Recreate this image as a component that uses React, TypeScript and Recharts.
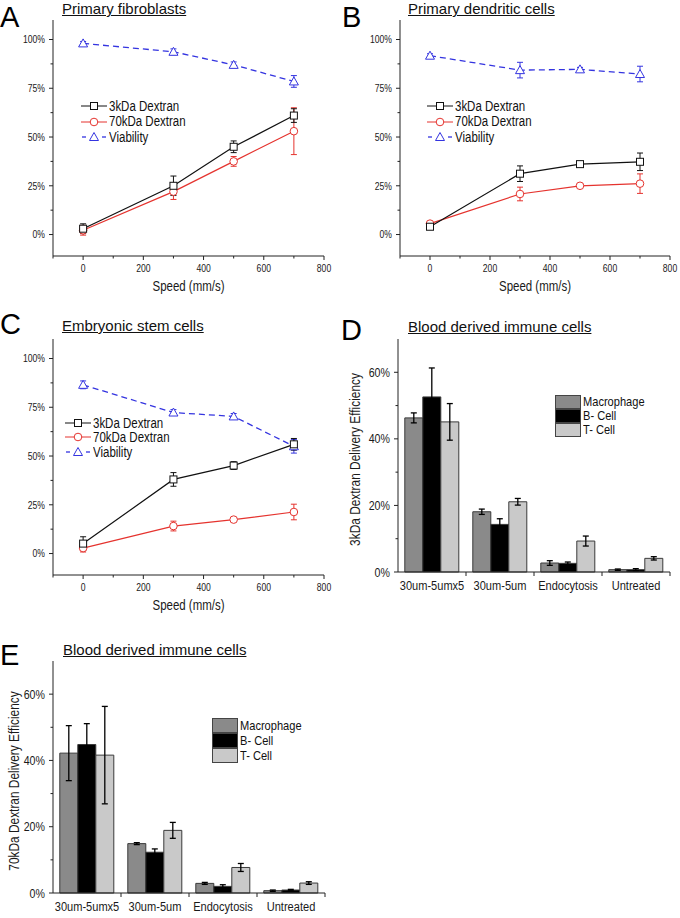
import React from "react";
import { Bar, BarChart, ErrorBar, Line, LineChart, XAxis, YAxis } from "recharts";

const SANS = "'Liberation Sans', Arial, sans-serif";
// the figure uses a condensed face; squeeze Liberation Sans horizontally
const SQUEEZE = 0.82;

const BLACK = "#111";
const RED = "#e5332e";
const BLUE = "#3434e0";
const AXIS = "#222";

// speed sweep (mm/s), shared by panels A-C
const speeds = [0, 300, 500, 700];
const speedTicks = [-100, 0, 100, 200, 300, 400, 500, 600, 700, 800];
const pctTicks = [0, 12.5, 25, 37.5, 50, 62.5, 75, 87.5, 100];

// A - primary fibroblasts
const fibroDex3 = [3, 25, 45, 61];
const fibroDex3Err = [2.5, 5, 3, 3.5];
const fibroDex70 = [2.2, 22, 37.5, 53];
const fibroDex70Err = [2.5, 4, 2.5, 12];
const fibroViab = [98, 93.7, 87, 78.5];
const fibroViabErr = [1, 1.5, 1.5, 3];

// B - primary dendritic cells
const dendDex3 = [4, 31.2, 36.1, 37.3];
const dendDex3Err = [1, 4, 1, 4.5];
const dendDex70 = [5.6, 20.8, 25, 26.1];
const dendDex70Err = [1, 3.5, 1, 5];
const dendViab = [91.7, 84.3, 84.7, 82.3];
const dendViabErr = [1, 4, 1, 4];

// C - embryonic stem cells
const escDex3 = [5.1, 38, 45.1, 56];
const escDex3Err = [3.5, 3.5, 2, 3];
const escDex70 = [2.8, 14.1, 17.4, 21.3];
const escDex70Err = [2, 2.5, 1, 4];
const escViab = [86.5, 72.3, 70.3, 55];
const escViabErr = [2, 1.5, 1.5, 3.5];

// D/E - blood derived immune cells
const protocols = ["30um-5umx5", "30um-5um", "Endocytosis", "Untreated"];
const barTicks = [0, 10, 20, 30, 40, 50, 60];

const macro3k = [46.3, 18.1, 2.7, 0.7];
const macro3kErr = [1.5, 0.8, 0.7, 0.2];
const bcell3k = [52.6, 14.3, 2.6, 0.7];
const bcell3kErr = [8.7, 1.7, 0.4, 0.3];
const tcell3k = [45.1, 21.1, 9.3, 4.1];
const tcell3kErr = [5.5, 1, 1.5, 0.5];

const macro70k = [42.2, 14.9, 2.9, 0.7];
const macro70kErr = [8.3, 0.3, 0.3, 0.2];
const bcell70k = [44.8, 12.3, 2, 0.9];
const bcell70kErr = [6.3, 1, 0.5, 0.2];
const tcell70k = [41.6, 18.9, 7.7, 3];
const tcell70kErr = [14.7, 2.4, 1.2, 0.4];

const cellTypes = [
  { key: "macro", name: "Macrophage", color: "#8a8a8a" },
  { key: "bcell", name: "B- Cell", color: "#000000" },
  { key: "tcell", name: "T- Cell", color: "#c9c9c9" },
];

function speedRows(d3: number[], d3e: number[], d70: number[], d70e: number[], v: number[], ve: number[]) {
  return speeds.map((s, i) => ({
    speed: s,
    dex3: d3[i], dex3Err: d3e[i],
    dex70: d70[i], dex70Err: d70e[i],
    viab: v[i], viabErr: ve[i],
  }));
}

function barRows(m: number[], me: number[], b: number[], be: number[], t: number[], te: number[]) {
  return protocols.map((p, i) => ({
    protocol: p,
    macro: m[i], macroErr: me[i],
    bcell: b[i], bcellErr: be[i],
    tcell: t[i], tcellErr: te[i],
  }));
}

function renderSquare(p: any) {
  return <rect key={`sq-${p.index}`} x={p.cx - 3.5} y={p.cy - 3.5} width={7} height={7} fill="#fff" stroke={BLACK} strokeWidth={1} />;
}
function renderCircle(p: any) {
  return <circle key={`ci-${p.index}`} cx={p.cx} cy={p.cy} r={3.8} fill="#fff" stroke={RED} strokeWidth={1} />;
}
function renderTriangle(p: any) {
  const { cx, cy } = p;
  return <path key={`tr-${p.index}`} d={`M${cx},${cy - 4.5}L${cx + 4.5},${cy + 3.5}L${cx - 4.5},${cy + 3.5}Z`} fill="#fff" stroke={BLUE} strokeWidth={1} />;
}

// squeezed svg text
function SqText({ x, y, size, anchor, rotate, children }: any) {
  const t = rotate
    ? `translate(${x},${y}) rotate(-90) scale(${SQUEEZE},1)`
    : `translate(${x},${y}) scale(${SQUEEZE},1)`;
  return (
    <text transform={t} x={0} y={0} dy={rotate ? "0.35em" : 0} fontSize={size} fontFamily={SANS} textAnchor={anchor} fill="#1a1a1a">
      {children}
    </text>
  );
}

function SpeedTick(props: any) {
  const { x, y, payload } = props;
  const v = payload.value;
  const major = v >= 0 && v % 200 === 0;
  return (
    <g>
      <line x1={x} y1={y} x2={x} y2={y + (major ? 4 : 2.5)} stroke={AXIS} />
      {major && <SqText x={x} y={y + 15.5} size={10.5} anchor="middle">{v}</SqText>}
    </g>
  );
}

function PctTick(props: any) {
  const { x, y, payload } = props;
  const v = payload.value;
  const major = v % 25 === 0;
  return (
    <g>
      <line x1={x - (major ? 4 : 2.5)} y1={y} x2={x} y2={y} stroke={AXIS} />
      {major && <SqText x={x - 8} y={y + 3.8} size={10.5} anchor="end">{`${v}%`}</SqText>}
    </g>
  );
}

function BarPctTick(props: any) {
  const { x, y, payload } = props;
  const v = payload.value;
  const major = v % 20 === 0;
  return (
    <g>
      <line x1={x - (major ? 4 : 2.5)} y1={y} x2={x} y2={y} stroke={AXIS} />
      {major && <SqText x={x - 8} y={y + 4.5} size={13} anchor="end">{`${v}%`}</SqText>}
    </g>
  );
}

function makeCategoryTick(band: number) {
  return function CategoryTick(props: any) {
    const { x, y, payload } = props;
    return (
      <g>
        <line x1={x + band / 2} y1={y} x2={x + band / 2} y2={y + 4} stroke={AXIS} />
        <SqText x={x} y={y + 17.5} size={13.5} anchor="middle">{payload.value}</SqText>
      </g>
    );
  };
}

function renderSpeedLabel(props: any) {
  const vb = props.viewBox;
  return <SqText x={vb.x + vb.width / 2} y={vb.y + vb.height - 4} size={14} anchor="middle">Speed (mm/s)</SqText>;
}

function makeYLabel(text: string, offset: number) {
  return function renderYLabel(props: any) {
    const vb = props.viewBox;
    return <SqText x={vb.x + offset} y={vb.y + vb.height / 2 + 4} size={14.5} anchor="middle" rotate>{text}</SqText>;
  };
}

function Letter({ text, left, top }: { text: string; left: number; top: number }) {
  return (
    <div style={{ position: "absolute", left, top, fontFamily: SANS, fontSize: 29, lineHeight: "34px", color: "#000" }}>{text}</div>
  );
}

function Title({ text, left, top }: { text: string; left: number; top: number }) {
  return (
    <div style={{ position: "absolute", left, top, fontFamily: SANS, fontSize: 15, lineHeight: "17px", color: "#111", textDecoration: "underline", whiteSpace: "nowrap" }}>{text}</div>
  );
}

const sqSpan: React.CSSProperties = { display: "inline-block", transform: `scaleX(${SQUEEZE})`, transformOrigin: "left center", whiteSpace: "nowrap" };

function LineLegend({ left, top, rowH }: { left: number; top: number; rowH: number }) {
  const items = [
    { label: "3kDa Dextran", kind: "sq" },
    { label: "70kDa Dextran", kind: "ci" },
    { label: "Viability", kind: "tr" },
  ];
  return (
    <div style={{ position: "absolute", left, top, fontFamily: SANS, fontSize: 14, lineHeight: `${rowH}px`, color: "#111" }}>
      {items.map((it) => (
        <div key={it.label} style={{ display: "flex", alignItems: "center", height: rowH }}>
          <svg width={26} height={12} style={{ marginRight: 2 }}>
            {it.kind === "sq" && (
              <g>
                <line x1={0} y1={6} x2={26} y2={6} stroke={BLACK} />
                <rect x={9.5} y={2.5} width={7} height={7} fill="#fff" stroke={BLACK} />
              </g>
            )}
            {it.kind === "ci" && (
              <g>
                <line x1={0} y1={6} x2={26} y2={6} stroke={RED} />
                <circle cx={13} cy={6} r={3.8} fill="#fff" stroke={RED} />
              </g>
            )}
            {it.kind === "tr" && (
              <g>
                <line x1={1} y1={6} x2={5} y2={6} stroke={BLUE} strokeWidth={1.3} />
                <path d="M13,1.5L17.5,9.5L8.5,9.5Z" fill="#fff" stroke={BLUE} />
                <line x1={21} y1={6} x2={25} y2={6} stroke={BLUE} strokeWidth={1.3} />
              </g>
            )}
          </svg>
          <span style={sqSpan}>{it.label}</span>
        </div>
      ))}
    </div>
  );
}

function BarLegend({ left, top, rowH }: { left: number; top: number; rowH: number }) {
  return (
    <div style={{ position: "absolute", left, top, fontFamily: SANS, fontSize: 13.5, lineHeight: `${rowH}px`, color: "#111" }}>
      {cellTypes.map((c) => (
        <div key={c.key} style={{ display: "flex", alignItems: "center", height: rowH }}>
          <div style={{ width: 24, height: rowH - 2, background: c.color, border: "1px solid #444", marginRight: 2 }} />
          <span style={sqSpan}>{c.name}</span>
        </div>
      ))}
    </div>
  );
}

type SpeedPanelProps = {
  left: number;
  top: number;
  marginLeft: number;
  marginRight: number;
  rows: ReturnType<typeof speedRows>;
};

function SpeedPanel({ left, top, marginLeft, marginRight, rows }: SpeedPanelProps) {
  return (
    <div style={{ position: "absolute", left, top }}>
      <LineChart width={340} height={295} data={rows} margin={{ top: 20, right: marginRight, bottom: 0, left: marginLeft }}>
        <XAxis
          dataKey="speed"
          type="number"
          domain={[-100, 800]}
          ticks={speedTicks}
          interval={0}
          tickLine={false}
          tickSize={0}
          tickMargin={0}
          tick={<SpeedTick />}
          height={39}
          stroke={AXIS}
          axisLine={{ stroke: AXIS, strokeWidth: 1 }}
          label={{ position: "insideBottom", content: renderSpeedLabel }}
        />
        <YAxis
          type="number"
          domain={[-11, 110]}
          ticks={pctTicks}
          interval={0}
          tickLine={false}
          tickSize={0}
          tickMargin={0}
          tick={<PctTick />}
          width={45}
          stroke={AXIS}
          axisLine={{ stroke: AXIS, strokeWidth: 1 }}
        />
        <Line dataKey="viab" stroke={BLUE} strokeWidth={1.3} strokeDasharray="6 4" dot={renderTriangle} isAnimationActive={false}>
          <ErrorBar dataKey="viabErr" width={3} stroke={BLUE} strokeWidth={1} />
        </Line>
        <Line dataKey="dex70" stroke={RED} strokeWidth={1.2} dot={renderCircle} isAnimationActive={false}>
          <ErrorBar dataKey="dex70Err" width={3} stroke={RED} strokeWidth={1} />
        </Line>
        <Line dataKey="dex3" stroke={BLACK} strokeWidth={1.2} dot={renderSquare} isAnimationActive={false}>
          <ErrorBar dataKey="dex3Err" width={3} stroke={BLACK} strokeWidth={1} />
        </Line>
      </LineChart>
    </div>
  );
}

type BarPanelProps = {
  left: number;
  top: number;
  height: number;
  axisWidth: number;
  marginRight: number;
  labelOffset: number;
  yLabel: string;
  rows: ReturnType<typeof barRows>;
};

function BarPanel({ left, top, height, axisWidth, marginRight, labelOffset, yLabel, rows }: BarPanelProps) {
  const band = (340 - axisWidth - marginRight) / protocols.length;
  const CategoryTick = makeCategoryTick(band);
  return (
    <div style={{ position: "absolute", left, top }}>
      <BarChart width={340} height={height} data={rows} margin={{ top: 20, right: marginRight, bottom: 0, left: 0 }} barCategoryGap="10%" barGap={0}>
        <XAxis
          dataKey="protocol"
          tickLine={false}
          tickSize={0}
          tickMargin={0}
          tick={<CategoryTick />}
          interval={0}
          height={25}
          stroke={AXIS}
          axisLine={{ stroke: AXIS, strokeWidth: 1 }}
        />
        <YAxis
          type="number"
          domain={[0, 70]}
          ticks={barTicks}
          interval={0}
          tickLine={false}
          tickSize={0}
          tickMargin={0}
          tick={<BarPctTick />}
          width={axisWidth}
          stroke={AXIS}
          axisLine={{ stroke: AXIS, strokeWidth: 1 }}
          label={{ position: "insideLeft", content: makeYLabel(yLabel, labelOffset) }}
        />
        {cellTypes.map((c) => (
          <Bar key={c.key} dataKey={c.key} name={c.name} fill={c.color} stroke="#3a3a3a" strokeWidth={1} isAnimationActive={false}>
            <ErrorBar dataKey={`${c.key}Err`} width={3} stroke="#000" strokeWidth={1.3} />
          </Bar>
        ))}
      </BarChart>
    </div>
  );
}

export default function App() {
  const fibro = speedRows(fibroDex3, fibroDex3Err, fibroDex70, fibroDex70Err, fibroViab, fibroViabErr);
  const dend = speedRows(dendDex3, dendDex3Err, dendDex70, dendDex70Err, dendViab, dendViabErr);
  const esc = speedRows(escDex3, escDex3Err, escDex70, escDex70Err, escViab, escViabErr);
  const blood3k = barRows(macro3k, macro3kErr, bcell3k, bcell3kErr, tcell3k, tcell3kErr);
  const blood70k = barRows(macro70k, macro70kErr, bcell70k, bcell70kErr, tcell70k, tcell70kErr);

  return (
    <div style={{ position: "absolute", left: 0, top: 0, width: 680, height: 918, background: "#fff", overflow: "hidden" }}>
      <SpeedPanel left={0} top={0} marginLeft={8} marginRight={16} rows={fibro} />
      <Letter text="A" left={0} top={0} />
      <Title text="Primary fibroblasts" left={62} top={0} />
      <LineLegend left={81} top={98.5} rowH={15.5} />

      <SpeedPanel left={340} top={0} marginLeft={15} marginRight={10} rows={dend} />
      <Letter text="B" left={342} top={0} />
      <Title text="Primary dendritic cells" left={408} top={0} />
      <LineLegend left={427} top={98.5} rowH={15.5} />

      <SpeedPanel left={0} top={319} marginLeft={8} marginRight={16} rows={esc} />
      <Letter text="C" left={0} top={307} />
      <Title text="Embryonic stem cells" left={62} top={317} />
      <LineLegend left={65} top={415.5} rowH={14.5} />

      <BarPanel left={340} top={319} height={278} axisWidth={58} marginRight={10} labelOffset={15} yLabel="3kDa Dextran Delivery Efficiency" rows={blood3k} />
      <Letter text="D" left={341} top={313} />
      <Title text="Blood derived immune cells" left={408} top={318} />
      <BarLegend left={555} top={395} rowH={14} />

      <BarPanel left={0} top={641} height={277} axisWidth={53} marginRight={15} labelOffset={14} yLabel="70kDa Dextran Delivery Efficiency" rows={blood70k} />
      <Letter text="E" left={0} top={638} />
      <Title text="Blood derived immune cells" left={63} top={641} />
      <BarLegend left={212} top={718} rowH={15} />
    </div>
  );
}
